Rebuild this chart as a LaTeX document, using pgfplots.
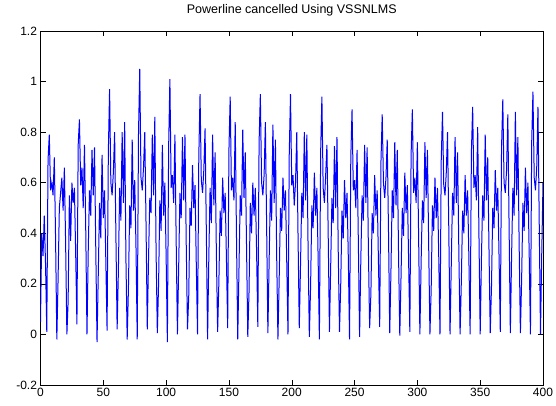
\documentclass[border=0pt]{standalone}
\usepackage{pgfplots}
\pgfplotsset{compat=1.18}
\usepackage{fontspec}
\setmainfont{Liberation Sans}
\begin{document}
\begin{tikzpicture}
\useasboundingbox (-40.5pt,-20pt) rectangle (515.5pt,385pt);
\begin{axis}[
  at={(0pt,0pt)}, anchor=south west,
  width=502.5pt, height=354pt, scale only axis,
  xmin=0, xmax=400, ymin=-0.2, ymax=1.2,
  xtick={0,50,100,150,200,250,300,350,400},
  ytick={-0.2,0,0.2,0.4,0.6,0.8,1,1.2},
  tick align=inside,
  major tick length=5pt,
  tick style={black, line width=0.5pt},
  axis line style={black, line width=0.6pt},
  ticklabel style={font=\fontsize{12}{14}\selectfont, text=black},
  /pgf/number format/assume math mode=true,
  title={Powerline cancelled Using VSSNLMS},
  title style={font=\fontsize{12.5}{14}\selectfont, at={(0.5,1)}, anchor=base, yshift=11pt},
]
\addplot[color={rgb,1:red,0;green,0;blue,1}, line width=1pt] coordinates {
(0,0.05)(1,0.40)(2,0.31)(3,0.47)(4,0.28)
(5,0.01)(6,0.69)(7,0.79)(8,0.57)(9,0.60)(10,0.55)(11,0.70)(12,0.38)
(13,-0.02)(14,0.22)(15,0.50)(16,0.56)(17,0.62)(18,0.49)(19,0.66)(20,0.36)
(21,0.00)(22,0.13)(23,0.55)(24,0.37)(25,0.60)(26,0.52)(27,0.58)(28,0.32)
(29,0.04)(30,0.75)(31,0.85)(32,0.59)(33,0.66)(34,0.50)(35,0.75)(36,0.42)
(37,0.00)(38,0.33)(39,0.57)(40,0.47)(41,0.73)(42,0.55)(43,0.74)(44,0.34)
(45,-0.03)(46,0.24)(47,0.52)(48,0.38)(49,0.71)(50,0.46)(51,0.57)(52,0.29)
(53,0.015)(54,0.72)(55,0.97)(56,0.60)(57,0.55)(58,0.64)(59,0.80)(60,0.40)
(61,0.02)(62,0.25)(63,0.58)(64,0.45)(65,0.80)(66,0.52)(67,0.84)(68,0.30)
(69,-0.02)(70,0.18)(71,0.51)(72,0.42)(73,0.77)(74,0.49)(75,0.61)(76,0.35)
(77,-0.02)(78,0.79)(79,1.05)(80,0.62)(81,0.57)(82,0.66)(83,0.80)(84,0.44)
(85,0.02)(86,0.30)(87,0.54)(88,0.48)(89,0.79)(90,0.55)(91,0.86)(92,0.33)
(93,0.005)(94,0.20)(95,0.53)(96,0.41)(97,0.75)(98,0.47)(99,0.60)(100,0.31)
(101,-0.03)(102,0.74)(103,1.01)(104,0.58)(105,0.63)(106,0.52)(107,0.79)(108,0.37)
(109,0.00)(110,0.27)(111,0.56)(112,0.46)(113,0.78)(114,0.53)(115,0.79)(116,0.36)
(117,0.02)(118,0.15)(119,0.50)(120,0.43)(121,0.67)(122,0.50)(123,0.59)(124,0.28)
(125,0.00)(126,0.70)(127,0.95)(128,0.61)(129,0.56)(130,0.65)(131,0.815)(132,0.41)
(133,-0.02)(134,0.31)(135,0.58)(136,0.44)(137,0.79)(138,0.51)(139,0.72)(140,0.32)
(141,0.01)(142,0.21)(143,0.49)(144,0.39)(145,0.62)(146,0.48)(147,0.56)(148,0.30)
(149,0.025)(150,0.73)(151,0.94)(152,0.57)(153,0.62)(154,0.53)(155,0.84)(156,0.39)
(157,-0.02)(158,0.26)(159,0.55)(160,0.47)(161,0.81)(162,0.54)(163,0.72)(164,0.35)
(165,-0.01)(166,0.17)(167,0.52)(168,0.40)(169,0.60)(170,0.47)(171,0.58)(172,0.33)
(173,0.03)(174,0.76)(175,0.95)(176,0.60)(177,0.55)(178,0.63)(179,0.84)(180,0.43)
(181,0.005)(182,0.29)(183,0.57)(184,0.45)(185,0.83)(186,0.52)(187,0.77)(188,0.31)
(189,-0.02)(190,0.22)(191,0.50)(192,0.41)(193,0.62)(194,0.49)(195,0.57)(196,0.29)
(197,0.00)(198,0.71)(199,0.95)(200,0.59)(201,0.63)(202,0.51)(203,0.60)(204,0.80)(205,0.39)
(206,0.025)(207,0.28)(208,0.56)(209,0.46)(210,0.80)(211,0.53)(212,0.79)(213,0.34)
(214,-0.01)(215,0.19)(216,0.51)(217,0.42)(218,0.64)(219,0.47)(220,0.58)(221,0.30)
(222,-0.02)(223,0.72)(224,0.94)(225,0.58)(226,0.52)(227,0.63)(228,0.75)(229,0.40)
(230,0.01)(231,0.27)(232,0.54)(233,0.44)(234,0.745)(235,0.50)(236,0.78)(237,0.33)
(238,0.01)(239,0.20)(240,0.49)(241,0.38)(242,0.61)(243,0.46)(244,0.56)(245,0.31)
(246,-0.02)(247,0.70)(248,0.89)(249,0.57)(250,0.61)(251,0.50)(252,0.73)(253,0.37)
(254,-0.01)(255,0.30)(256,0.55)(257,0.45)(258,0.75)(259,0.52)(260,0.74)(261,0.34)
(262,0.025)(263,0.16)(264,0.48)(265,0.40)(266,0.63)(267,0.47)(268,0.57)(269,0.29)
(270,0.03)(271,0.68)(272,0.87)(273,0.60)(274,0.54)(275,0.62)(276,0.77)(277,0.41)
(278,0.005)(279,0.26)(280,0.57)(281,0.46)(282,0.76)(283,0.51)(284,0.73)(285,0.32)
(286,-0.005)(287,0.23)(288,0.50)(289,0.39)(290,0.64)(291,0.48)(292,0.59)(293,0.30)
(294,0.01)(295,0.71)(296,0.89)(297,0.56)(298,0.62)(299,0.52)(300,0.76)(301,0.38)
(302,0.00)(303,0.29)(304,0.53)(305,0.44)(306,0.76)(307,0.54)(308,0.73)(309,0.35)
(310,0.00)(311,0.18)(312,0.51)(313,0.41)(314,0.62)(315,0.46)(316,0.58)(317,0.31)
(318,0.00)(319,0.69)(320,0.88)(321,0.59)(322,0.55)(323,0.64)(324,0.80)(325,0.42)
(326,0.00)(327,0.28)(328,0.56)(329,0.47)(330,0.78)(331,0.52)(332,0.72)(333,0.33)
(334,0.00)(335,0.21)(336,0.49)(337,0.40)(338,0.63)(339,0.47)(340,0.57)(341,0.30)
(342,0.00)(343,0.72)(344,0.90)(345,0.58)(346,0.63)(347,0.53)(348,0.82)(349,0.40)
(350,0.00)(351,0.30)(352,0.55)(353,0.45)(354,0.79)(355,0.53)(356,0.70)(357,0.34)
(358,0.005)(359,0.19)(360,0.50)(361,0.42)(362,0.65)(363,0.49)(364,0.58)(365,0.31)
(366,0.01)(367,0.74)(368,0.93)(369,0.60)(370,0.56)(371,0.65)(372,0.87)(373,0.43)
(374,0.005)(375,0.31)(376,0.58)(377,0.47)(378,0.88)(379,0.55)(380,0.78)(381,0.36)
(382,0.005)(383,0.22)(384,0.52)(385,0.41)(386,0.66)(387,0.48)(388,0.60)(389,0.32)
(390,0.00)(391,0.76)(392,0.96)(393,0.62)(394,0.57)(395,0.66)(396,0.90)(397,0.44)
(398,0.00)(399,0.32)(400,0.60)
};
\end{axis}
\end{tikzpicture}
\end{document}
